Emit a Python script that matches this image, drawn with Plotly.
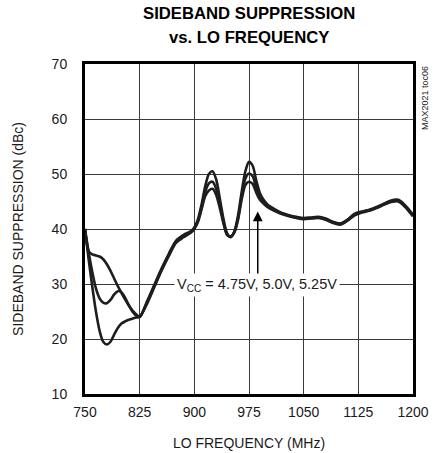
import plotly.graph_objects as go

# LO frequency (MHz)
freq = [750, 755, 760, 765, 770, 775, 780, 785, 790, 795, 800, 805, 810, 815, 820, 825,
        835, 845, 855, 865, 875, 885, 895,
        900, 905, 910, 915, 920, 925, 930, 935, 940, 945, 950, 955, 960, 965, 970, 975,
        980, 985, 990, 995, 1000,
        1010, 1020, 1030, 1040, 1050, 1060, 1070, 1080, 1090, 1100, 1110, 1120, 1130,
        1140, 1150, 1160, 1170, 1180, 1190, 1200]

# Sideband suppression (dBc) for the three supply voltages
supp_a = [40, 36.0, 35.4, 35.2, 35.0, 34.5, 33.6, 32.4, 31.0, 29.6, 28.4, 27.2, 26.1, 25.2, 24.5, 24.0,
          26.8, 29.8, 32.8, 35.5, 37.9, 38.9, 39.6,
          40.3, 41.8, 44.5, 47.8, 50.0, 50.5, 49.0, 45.5, 41.8, 39.2, 38.5, 39.6, 42.5, 46.8, 50.5, 52.2,
          51.5, 48.8, 46.5, 45.3, 44.5,
          43.6, 42.9, 42.5, 42.2, 42.0, 42.1, 42.2, 41.9, 41.3, 41.0, 41.7, 42.8, 43.2,
          43.5, 44.0, 44.6, 45.2, 45.3, 44.2, 42.6]
supp_b = [40, 35.8, 32.2, 29.2, 27.4, 26.6, 26.5, 27.1, 28.1, 28.7, 28.5, 27.5, 26.2, 25.0, 24.3, 24.0,
          26.6, 29.6, 32.6, 35.3, 37.7, 38.7, 39.4,
          40.1, 41.5, 44.0, 46.8, 48.3, 48.6, 47.3, 44.5, 41.3, 39.0, 38.6, 39.5, 42.0, 46.0, 49.2, 50.1,
          49.6, 47.5, 45.8, 44.9, 44.2,
          43.4, 42.8, 42.4, 42.1, 41.9, 42.0, 42.1, 41.8, 41.2, 40.9, 41.6, 42.6, 43.1,
          43.4, 43.9, 44.5, 45.0, 45.1, 44.0, 42.4]
supp_c = [40, 34.5, 29.5, 25.0, 21.5, 19.5, 19.0, 19.5, 20.8, 22.0, 22.8, 23.2, 23.5, 23.7, 23.9, 24.0,
          26.4, 29.4, 32.4, 35.1, 37.5, 38.5, 39.3,
          40.0, 41.3, 43.6, 46.0, 47.0, 47.3, 46.2, 43.8, 41.0, 38.9, 38.7, 39.4, 41.7, 45.4, 48.0, 48.6,
          48.2, 46.6, 45.3, 44.6, 44.0,
          43.3, 42.7, 42.3, 42.0, 41.8, 41.9, 42.0, 41.7, 41.1, 40.8, 41.5, 42.5, 43.0,
          43.3, 43.8, 44.4, 44.9, 45.0, 43.9, 42.3]

series_names = ["VCC = 4.75V", "VCC = 5.0V", "VCC = 5.25V"]
x_ticks = [750, 825, 900, 975, 1050, 1125, 1200]
y_ticks = [10, 20, 30, 40, 50, 60, 70]
title_lines = ["SIDEBAND SUPPRESSION", "vs. LO FREQUENCY"]

FONT = "Liberation Sans, Arial, sans-serif"

fig = go.Figure()
for name, vals in zip(series_names, [supp_a, supp_b, supp_c]):
    fig.add_trace(go.Scatter(
        x=freq, y=vals, mode="lines", name=name,
        line=dict(color="#1e1e1e", width=2.6, shape="spline", smoothing=0.8),
        showlegend=False, hoverinfo="skip",
    ))

fig.update_layout(
    template="none",
    width=436, height=453,
    margin=dict(l=85, r=23, t=64, b=59, autoexpand=False),
    paper_bgcolor="white", plot_bgcolor="white",
    showlegend=False,
    font=dict(family=FONT, size=14, color="#1a1a1a"),
    xaxis=dict(
        range=[750, 1200], tickvals=x_ticks, ticks="",
        showgrid=True, gridcolor="#3a3a3a", gridwidth=1,
        showline=True, linecolor="black", linewidth=3, mirror=True,
        zeroline=False, ticklabelstandoff=3, automargin=False,
        title=dict(text="LO FREQUENCY (MHz)", standoff=20, font=dict(size=14)),
    ),
    yaxis=dict(
        range=[10, 70], tickvals=y_ticks, ticks="",
        showgrid=True, gridcolor="#3a3a3a", gridwidth=1,
        showline=True, linecolor="black", linewidth=3, mirror=True,
        zeroline=False, ticklabelstandoff=12, automargin=False,
        title=dict(text="SIDEBAND SUPPRESSION (dBc)", standoff=25, font=dict(size=14)),
    ),
)

# two-line bold title
for line, shift in zip(title_lines, [51, 27]):
    fig.add_annotation(
        x=0.5, xref="paper", xanchor="center",
        y=1.0, yref="paper", yanchor="middle", yshift=shift,
        text="<b>%s</b>" % line, showarrow=False,
        font=dict(family=FONT, size=16.7, color="black"),
    )

# arrow pointing at the curves
fig.add_annotation(
    x=987, y=43.2, ax=987, ay=31.5, axref="x", ayref="y", xref="x", yref="y",
    text="", showarrow=True, arrowhead=2, arrowsize=1.3, arrowwidth=1.5,
    arrowcolor="black",
)
# voltage label
fig.add_annotation(
    x=986, y=29.8, xref="x", yref="y", showarrow=False,
    text="V<sub>CC</sub> = 4.75V, 5.0V, 5.25V",
    font=dict(family=FONT, size=14.5, color="#1a1a1a"),
    bgcolor="white", borderpad=2,
)
# figure code
fig.add_annotation(
    x=1.0, xref="paper", xanchor="left", xshift=5,
    y=1.0, yref="paper", yanchor="top",
    text="MAX2021 toc06", textangle=-90, showarrow=False,
    font=dict(family=FONT, size=9, color="#1a1a1a"),
)

fig.write_html("out.html", config={"displayModeBar": False, "staticPlot": True},
               post_script="document.body.style.margin='0';")
